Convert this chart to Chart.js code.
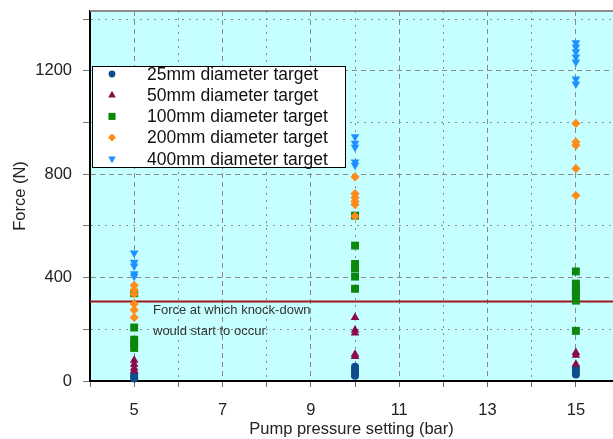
<!DOCTYPE html>
<html><head><meta charset="utf-8">
<script src="https://cdn.jsdelivr.net/npm/chart.js@4.4.0/dist/chart.umd.min.js"></script>
<style>html,body{margin:0;padding:0;background:#fff;overflow:hidden}#wrap{width:613px;height:439px;position:relative}</style>
</head><body><div id="wrap"><canvas id="c" width="613" height="439"></canvas></div>
<script>
// ---- data ----
const pressures = [5, 10, 15];
const seriesLabels = ['25mm diameter target', '50mm diameter target', '100mm diameter target', '200mm diameter target', '400mm diameter target'];
const force25mm  = [[25, 15, 10], [55, 45, 35, 25, 20], [50, 38, 25]];
const force50mm  = [[80, 65, 50, 40], [246, 197, 186, 104, 95], [110, 100, 65]];
const force100mm = [[340, 207, 160, 145, 128], [640, 524, 453, 436, 404, 357], [424, 377, 361, 346, 330, 311, 194]];
const force200mm = [[370, 352, 337, 298, 275, 246], [790, 725, 710, 695, 683, 638], [997, 925, 912, 822, 718]];
const force400mm = [[495, 460, 445, 415, 405], [945, 920, 905, 848, 835], [1309, 1293, 1274, 1254, 1235, 1169, 1149]];
const knockDownForce = 308;
const xTickValues = [4, 5, 6, 7, 8, 9, 10, 11, 12, 13, 14, 15];
const xTickLabels = ['5', '7', '9', '11', '13', '15'];
const yTickValues = [0, 200, 400, 600, 800, 1000, 1200, 1400];
const yTickLabels = ['0', '400', '800', '1200'];
const annotationLines = ['Force at which knock-down', 'would start to occur'];
const xTitle = 'Pump pressure setting (bar)';
const yTitle = 'Force (N)';

// ---- styles ----
const FONT = '"Liberation Sans", Arial, sans-serif';
const styles = [
  {color: '#0e4c8c', pointStyle: 'circle', radius: 4, rotation: 0},
  {color: '#8a0a4e', pointStyle: 'triangle', radius: 5, rotation: 0},
  {color: '#0b870b', pointStyle: 'rect', radius: 5.6, rotation: 0},
  {color: '#ff8c1a', pointStyle: 'rectRot', radius: 4.6, rotation: 0},
  {color: '#1e90ff', pointStyle: 'triangle', radius: 5, rotation: 180}
];
const allSeries = [force25mm, force50mm, force100mm, force200mm, force400mm];

function toPoints(series) {
  const pts = [];
  series.forEach((vals, i) => vals.forEach(v => pts.push({x: pressures[i], y: v})));
  return pts;
}

const datasets = allSeries.map((s, i) => ({
  type: 'scatter',
  label: seriesLabels[i],
  data: toPoints(s),
  backgroundColor: styles[i].color,
  borderColor: styles[i].color,
  borderWidth: 0,
  pointStyle: styles[i].pointStyle,
  pointRadius: styles[i].radius,
  pointRotation: styles[i].rotation,
  order: 5 - i,
  clip: false
}));
datasets.push({
  type: 'line',
  label: 'knock-down',
  data: [{x: 4, y: knockDownForce}, {x: 15.84, y: knockDownForce}],
  borderColor: '#9e1b1b',
  borderWidth: 2,
  pointRadius: 0,
  order: 10
});

const decorPlugin = {
  id: 'decor',
  beforeDraw(chart) {
    const {ctx, chartArea: a} = chart;
    ctx.save();
    ctx.fillStyle = '#c6ffff';
    ctx.fillRect(a.left, a.top, a.right - a.left, a.bottom - a.top);
    ctx.restore();
  },
  beforeDatasetsDraw(chart) {
    const {ctx, chartArea: a} = chart;
    ctx.save();
    ctx.strokeStyle = '#8c8c8c';
    ctx.lineWidth = 2;
    ctx.beginPath(); ctx.moveTo(a.left, a.top); ctx.lineTo(a.right, a.top); ctx.stroke();
    ctx.restore();
  },
  afterDatasetsDraw(chart) {
    const {ctx, chartArea: a, scales} = chart;
    ctx.save();
    // annotation
    const ly = scales.y.getPixelForValue(knockDownForce);
    ctx.font = '13px ' + FONT;
    ctx.fillStyle = '#333';
    ctx.textBaseline = 'middle';
    ctx.textAlign = 'left';
    annotationLines.forEach((t, i) => ctx.fillText(t, a.left + 63, ly + 9 + i * 21));
    // legend
    const bx = a.left + 2, by = a.top + 55, bw = 253, bh = 101;
    ctx.fillStyle = '#fff';
    ctx.fillRect(bx, by, bw, bh);
    ctx.strokeStyle = '#000';
    ctx.lineWidth = 1;
    ctx.strokeRect(bx + 0.5, by + 0.5, bw, bh);
    ctx.font = '17.5px ' + FONT;
    seriesLabels.forEach((lab, i) => {
      const ry = by + 8 + i * 21.2;
      ctx.fillStyle = styles[i].color;
      ctx.strokeStyle = styles[i].color;
      Chart.helpers.drawPoint(ctx, {pointStyle: styles[i].pointStyle, radius: styles[i].radius - 0.6, rotation: styles[i].rotation, borderWidth: 0}, bx + 20, ry);
      ctx.fillStyle = '#111';
      ctx.fillText(lab, bx + 55, ry + 1);
    });
    ctx.restore();
  }
};

new Chart(document.getElementById('c'), {
  data: {datasets},
  options: {
    responsive: false,
    animation: false,
    layout: {autoPadding: false, padding: {top: 11, left: 0, right: 0, bottom: 0}},
    plugins: {legend: {display: false}, tooltip: {enabled: false}},
    scales: {
      x: {
        type: 'linear', min: 4, max: 15.84,
        afterBuildTicks: s => { s.ticks = xTickValues.map(v => ({value: v})); },
        afterFit: s => { s.height = 58; s.paddingLeft = 0; s.paddingRight = 0; },
        ticks: {
          autoSkip: false, maxRotation: 0, padding: 14,
          color: '#222', font: {family: FONT, size: 16.5},
          callback: v => (xTickLabels.includes(String(v)) ? String(v) : '')
        },
        grid: {
          color: '#8a8a8a', lineWidth: 1, drawTicks: true, tickLength: 6, tickColor: '#666', tickWidth: 1
        },
        border: {
          display: true, color: '#000', width: 2,
          dash: c => (c.tick && xTickLabels.includes(String(c.tick.value)) ? [5, 4] : [2, 5])
        },
        title: {display: true, text: xTitle, color: '#222', font: {family: FONT, size: 16.5}, padding: {top: 0, bottom: 0}}
      },
      y: {
        type: 'linear', min: 0, max: 1432,
        afterBuildTicks: s => { s.ticks = yTickValues.map(v => ({value: v})); },
        afterFit: s => { s.width = 90; s.paddingTop = 0; s.paddingBottom = 0; },
        ticks: {
          padding: 11, color: '#222', font: {family: FONT, size: 16.5},
          callback: v => (yTickLabels.includes(String(v)) ? String(v) : '')
        },
        grid: {
          color: '#8a8a8a', lineWidth: 1, drawTicks: true, tickLength: 7, tickColor: '#777', tickWidth: 1
        },
        border: {
          display: true, color: '#000', width: 2,
          dash: c => (c.tick && yTickLabels.includes(String(c.tick.value)) ? [5, 4] : [2, 5])
        },
        title: {display: true, text: yTitle, color: '#222', font: {family: FONT, size: 16.5}, padding: {top: 11, bottom: 0}}
      }
    }
  },
  plugins: [decorPlugin]
});
</script></body></html>
